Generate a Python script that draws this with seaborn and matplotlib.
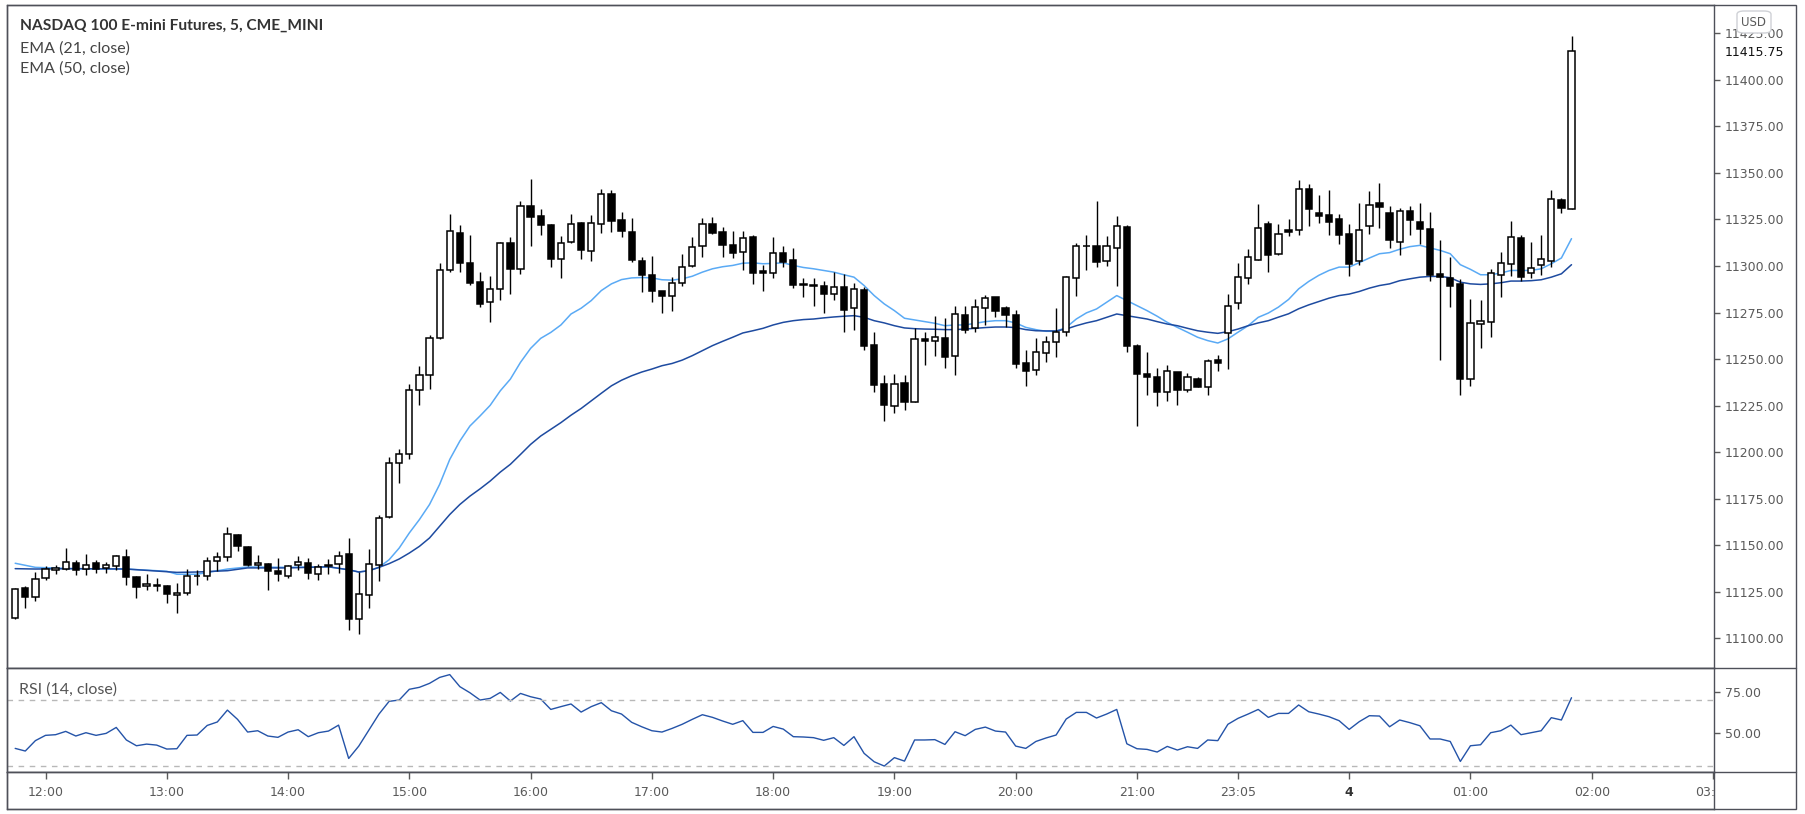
import matplotlib
matplotlib.use("Agg")
import pandas as pd
import matplotlib.pyplot as plt
import seaborn as sns
from matplotlib.patches import Rectangle, FancyBboxPatch
from matplotlib.lines import Line2D

# 5 minute bars, bar 0 = 12:00 (first bar = 11:45); session pauses after 21:10 and 21:55
first_bar = -3
opens = [11110.7, 11126.9, 11122.0, 11132.3, 11136.6, 11137.1, 11140.4, 11137.1, 11140.4, 11137.7,
         11138.9, 11143.6, 11132.8, 11128.0, 11128.5, 11128.1, 11123.1, 11124.0, 11133.2, 11133.4,
         11141.4, 11143.6, 11155.5, 11149.0, 11139.3, 11139.8, 11136.2, 11133.2, 11139.3, 11140.4,
         11134.4, 11139.3, 11139.8, 11145.2, 11110.2, 11123.1, 11139.3, 11165.0, 11194.2, 11199.1,
         11233.1, 11241.2, 11261.1, 11297.8, 11317.7, 11301.5, 11291.3, 11280.5, 11287.5, 11312.5,
         11298.3, 11332.4, 11326.9, 11322.2, 11303.7, 11312.8, 11323.3, 11308.0, 11322.6, 11338.7,
         11324.7, 11318.2, 11302.6, 11295.1, 11286.5, 11283.8, 11290.8, 11299.9, 11310.7, 11322.6,
         11318.3, 11311.2, 11307.5, 11315.6, 11297.4, 11296.5, 11306.9, 11303.3, 11290.0, 11289.9,
         11289.1, 11284.8, 11288.8, 11277.3, 11287.0, 11257.5, 11236.3, 11225.0, 11237.0, 11227.1,
         11260.8, 11259.9, 11261.1, 11251.8, 11273.7, 11266.5, 11277.3, 11283.2, 11277.3, 11273.7,
         11247.6, 11243.9, 11253.2, 11259.0, 11264.4, 11293.5, 11310.7, 11310.7, 11302.6, 11309.6,
         11321.0, 11256.8, 11241.7, 11240.1, 11232.0, 11242.8, 11233.4, 11239.5, 11235.2, 11249.4,
         11263.8, 11280.0, 11293.5, 11303.3, 11322.6, 11306.4, 11319.6, 11319.4, 11341.5, 11328.5,
         11327.6, 11325.5, 11317.4, 11302.7, 11321.5, 11334.1, 11328.7, 11312.9, 11329.3, 11323.9,
         11320.1, 11295.6, 11293.7, 11290.4, 11239.1, 11268.7, 11269.8, 11295.1, 11301.0, 11315.2,
         11296.2, 11300.5, 11302.7, 11335.4, 11330.7]
highs = [11126.9, 11128.1, 11135.5, 11138.9, 11139.5, 11148.4, 11142.2, 11145.2, 11142.0, 11141.1,
         11144.5, 11147.9, 11133.2, 11134.6, 11132.3, 11128.5, 11129.6, 11137.1, 11136.4, 11143.8,
         11146.5, 11159.8, 11155.8, 11149.3, 11144.9, 11140.4, 11143.1, 11139.3, 11144.3, 11143.1,
         11139.8, 11142.5, 11147.0, 11153.8, 11135.3, 11147.9, 11165.9, 11197.5, 11201.4, 11236.8,
         11246.0, 11262.9, 11301.7, 11328.1, 11322.2, 11316.8, 11296.7, 11294.5, 11312.8, 11315.5,
         11335.0, 11346.5, 11330.5, 11322.6, 11316.3, 11328.1, 11323.6, 11327.6, 11341.5, 11341.1,
         11329.0, 11325.8, 11304.8, 11305.3, 11286.8, 11294.0, 11306.6, 11315.6, 11325.8, 11326.3,
         11321.0, 11319.0, 11319.0, 11316.5, 11300.5, 11315.6, 11310.7, 11309.6, 11293.5, 11293.5,
         11292.0, 11296.7, 11295.6, 11290.8, 11288.6, 11264.4, 11241.3, 11241.7, 11241.5, 11266.5,
         11264.4, 11273.3, 11271.9, 11278.4, 11278.7, 11282.3, 11284.5, 11283.6, 11278.7, 11276.2,
         11254.8, 11261.1, 11262.2, 11277.3, 11294.4, 11312.5, 11316.8, 11335.0, 11316.1, 11326.9,
         11322.2, 11258.1, 11253.6, 11244.9, 11246.7, 11243.1, 11242.4, 11240.1, 11250.0, 11252.1,
         11284.8, 11301.7, 11309.3, 11333.5, 11324.2, 11322.8, 11325.5, 11346.0, 11344.0, 11338.4,
         11341.1, 11328.2, 11322.8, 11333.6, 11340.4, 11344.4, 11332.3, 11331.2, 11332.3, 11334.1,
         11329.1, 11313.8, 11304.8, 11292.8, 11282.4, 11281.8, 11298.5, 11307.5, 11324.4, 11316.5,
         11312.9, 11316.9, 11340.6, 11336.6, 11423.4]
lows = [11110.2, 11116.1, 11119.7, 11131.0, 11134.4, 11136.8, 11133.7, 11133.7, 11134.8, 11135.0,
        11136.6, 11128.3, 11121.5, 11125.6, 11125.1, 11118.6, 11113.4, 11122.9, 11128.7, 11131.0,
        11135.9, 11141.3, 11146.6, 11138.6, 11137.1, 11126.0, 11130.5, 11132.3, 11136.4, 11131.9,
        11131.0, 11134.2, 11134.9, 11104.4, 11102.1, 11115.9, 11130.5, 11164.6, 11183.5, 11196.4,
        11225.3, 11233.8, 11260.7, 11296.7, 11297.0, 11290.0, 11277.8, 11270.1, 11281.6, 11285.2,
        11295.6, 11310.5, 11316.4, 11299.7, 11293.4, 11312.5, 11303.9, 11302.6, 11317.7, 11318.2,
        11315.5, 11302.1, 11285.9, 11280.9, 11274.6, 11276.0, 11289.5, 11299.6, 11305.1, 11317.0,
        11304.8, 11304.2, 11298.1, 11290.4, 11286.3, 11293.8, 11299.2, 11288.4, 11283.6, 11278.7,
        11274.8, 11281.9, 11264.7, 11265.8, 11255.0, 11232.4, 11216.7, 11221.2, 11222.7, 11226.8,
        11246.7, 11251.8, 11245.1, 11241.5, 11264.0, 11264.7, 11268.3, 11272.8, 11267.0, 11245.1,
        11235.6, 11241.5, 11248.2, 11251.2, 11262.6, 11284.1, 11297.6, 11299.2, 11299.8, 11289.5,
        11253.9, 11214.0, 11230.7, 11224.8, 11227.5, 11225.4, 11232.4, 11234.7, 11230.7, 11243.3,
        11244.6, 11276.9, 11290.4, 11303.0, 11296.7, 11305.7, 11316.0, 11316.9, 11321.3, 11323.3,
        11316.5, 11312.0, 11294.6, 11300.3, 11317.0, 11320.6, 11309.8, 11305.7, 11316.5, 11311.6,
        11291.7, 11249.7, 11277.7, 11230.6, 11235.6, 11255.9, 11262.0, 11283.6, 11294.6, 11291.9,
        11293.5, 11294.9, 11299.4, 11328.5, 11330.5]
closes = [11126.3, 11121.9, 11131.7, 11137.1, 11137.7, 11140.9, 11136.4, 11139.3, 11137.1, 11139.3,
          11144.1, 11132.8, 11127.2, 11129.0, 11127.8, 11123.5, 11124.2, 11133.4, 11133.5, 11141.4,
          11143.6, 11156.0, 11149.5, 11139.1, 11140.4, 11135.9, 11134.2, 11138.7, 11140.9, 11135.0,
          11138.2, 11138.7, 11144.1, 11110.5, 11123.6, 11139.8, 11164.6, 11194.2, 11199.1, 11233.1,
          11241.2, 11261.1, 11297.8, 11318.8, 11301.5, 11291.1, 11279.8, 11287.5, 11312.5, 11298.3,
          11332.3, 11326.1, 11321.8, 11303.5, 11312.3, 11322.6, 11308.4, 11323.1, 11338.7, 11324.4,
          11318.8, 11303.0, 11294.9, 11286.3, 11283.8, 11290.8, 11299.4, 11310.2, 11322.6, 11317.5,
          11311.1, 11306.8, 11315.0, 11296.5, 11296.2, 11306.9, 11302.4, 11290.0, 11290.4, 11289.0,
          11284.7, 11288.6, 11276.6, 11287.5, 11257.2, 11236.1, 11225.4, 11236.3, 11227.0, 11260.6,
          11259.7, 11261.7, 11251.2, 11274.1, 11265.8, 11277.8, 11282.7, 11276.0, 11273.9, 11247.5,
          11243.7, 11253.6, 11259.0, 11264.4, 11294.0, 11310.7, 11310.9, 11302.4, 11310.7, 11321.5,
          11256.8, 11242.1, 11240.4, 11232.0, 11243.3, 11233.4, 11240.1, 11235.2, 11249.1, 11247.6,
          11278.4, 11294.0, 11304.8, 11320.4, 11305.7, 11317.2, 11318.1, 11341.5, 11330.9, 11326.7,
          11323.5, 11316.5, 11301.2, 11319.6, 11333.0, 11331.6, 11313.8, 11329.6, 11324.6, 11319.7,
          11294.9, 11293.9, 11289.5, 11239.4, 11269.2, 11270.7, 11296.2, 11301.6, 11315.6, 11293.9,
          11298.9, 11303.7, 11336.1, 11331.2, 11415.75]

# moving averages (bar index -> value)
ema_bars = [-3, -1, 3, 8, 12, 13, 15, 18, 20, 24, *range(28, 152)]
ema21 = [11140.2, 11138.0, 11137.3, 11137.1, 11135.9, 11134.3, 11134.3, 11137.1, 11138.2, 11138.0,
         11138.3, 11137.5, 11136.7, 11135.5, 11136.2, 11138.0, 11142.1, 11148.4, 11156.5, 11163.7,
         11171.8, 11182.6, 11196.0, 11205.9, 11214.0, 11219.4, 11225.1, 11232.9, 11239.2, 11248.2,
         11255.7, 11261.1, 11264.3, 11268.3, 11274.2, 11277.3, 11281.4, 11286.8, 11290.4, 11292.7,
         11293.6, 11293.8, 11293.6, 11292.6, 11292.4, 11293.1, 11294.5, 11296.7, 11298.5, 11299.6,
         11300.3, 11301.5, 11301.7, 11301.2, 11301.4, 11301.7, 11300.3, 11299.2, 11298.5, 11297.6,
         11296.7, 11295.3, 11294.0, 11289.5, 11284.1, 11279.6, 11276.0, 11271.9, 11271.0, 11270.1,
         11269.2, 11267.9, 11268.3, 11268.3, 11269.2, 11270.1, 11270.6, 11270.6, 11269.4, 11267.0,
         11265.8, 11264.9, 11264.9, 11267.0, 11271.5, 11274.8, 11276.9, 11280.5, 11284.1, 11281.4,
         11278.7, 11276.0, 11273.0, 11269.7, 11267.0, 11264.4, 11261.7, 11259.9, 11258.6, 11260.8,
         11264.4, 11267.9, 11272.4, 11274.7, 11277.9, 11282.0, 11287.7, 11291.7, 11295.0, 11297.6,
         11299.4, 11299.4, 11301.8, 11304.3, 11306.6, 11307.2, 11309.0, 11310.4, 11311.1, 11309.7,
         11308.4, 11306.6, 11300.7, 11298.2, 11295.3, 11295.3, 11296.2, 11297.6, 11297.6, 11297.6,
         11298.5, 11301.2, 11304.3, 11314.7]
ema50 = [11137.3, 11137.1, 11137.3, 11137.1, 11135.7, 11135.3, 11135.5, 11136.2, 11137.7, 11137.7,
         11138.3, 11137.5, 11136.7, 11135.5, 11136.2, 11138.0, 11140.0, 11142.5, 11145.7, 11149.3,
         11153.8, 11160.1, 11166.4, 11171.8, 11176.3, 11180.2, 11184.4, 11189.2, 11193.4, 11198.7,
         11204.1, 11208.6, 11212.2, 11215.8, 11219.8, 11223.4, 11227.5, 11231.6, 11235.6, 11238.6,
         11241.0, 11243.0, 11244.6, 11246.4, 11247.6, 11249.4, 11251.8, 11254.5, 11257.2, 11259.5,
         11261.7, 11264.0, 11265.2, 11266.5, 11268.3, 11269.7, 11270.6, 11271.2, 11271.5, 11272.1,
         11272.6, 11273.0, 11273.3, 11272.4, 11270.6, 11269.4, 11267.9, 11266.7, 11266.3, 11266.1,
         11266.0, 11265.8, 11265.8, 11266.1, 11266.5, 11266.9, 11267.2, 11267.2, 11266.9, 11265.8,
         11265.2, 11265.1, 11265.1, 11266.1, 11267.9, 11269.4, 11270.6, 11272.4, 11274.2, 11273.3,
         11272.4, 11271.5, 11270.1, 11268.8, 11267.9, 11266.5, 11265.2, 11264.4, 11263.8, 11264.7,
         11266.1, 11267.9, 11269.4, 11270.6, 11272.5, 11274.3, 11277.0, 11279.1, 11280.9, 11282.7,
         11284.1, 11284.9, 11286.3, 11288.1, 11289.5, 11290.4, 11292.1, 11293.1, 11294.0, 11294.4,
         11294.4, 11293.7, 11291.3, 11290.4, 11290.1, 11290.4, 11291.0, 11291.9, 11291.9, 11292.1,
         11292.6, 11294.0, 11295.8, 11300.7]

rsi = [40.7, 39.1, 45.4, 48.6, 49.0, 51.0, 48.2, 50.2, 48.6, 49.8, 53.4, 45.8, 42.3, 43.3, 42.7,
       40.3, 40.5, 48.6, 48.8, 54.6, 56.7, 63.9, 58.3, 50.6, 51.4, 48.2, 47.4, 50.6, 52.0, 47.8,
       50.2, 51.2, 54.8, 34.6, 42.1, 51.8, 61.5, 69.2, 70.0, 76.5, 77.7, 80.1, 83.7, 85.4, 78.1,
       74.4, 70.0, 71.0, 74.6, 69.4, 74.0, 72.0, 70.6, 64.3, 66.0, 67.6, 62.7, 66.0, 68.4, 63.5,
       61.5, 56.5, 53.8, 51.4, 50.6, 52.8, 55.3, 58.3, 61.1, 59.5, 57.3, 55.3, 57.5, 50.4, 50.4,
       54.0, 52.4, 47.8, 47.6, 47.2, 45.6, 47.2, 42.5, 47.8, 37.7, 32.6, 30.0, 35.1, 33.0, 45.8,
       45.8, 46.0, 43.1, 50.8, 48.4, 52.2, 53.6, 51.2, 50.6, 42.1, 40.7, 44.9, 47.0, 48.8, 58.5,
       62.5, 62.5, 59.1, 61.5, 64.3, 43.5, 40.5, 40.1, 38.5, 41.9, 39.7, 41.7, 40.7, 45.8, 45.4,
       55.3, 58.9, 61.5, 64.3, 59.5, 61.9, 61.9, 67.0, 62.9, 61.5, 59.9, 57.5, 52.2, 56.9, 60.5,
       60.3, 53.8, 57.9, 56.3, 54.4, 46.4, 46.4, 44.9, 32.8, 42.3, 42.9, 50.2, 51.4, 54.8, 49.0,
       50.2, 51.4, 59.3, 57.9, 71.4]

time_labels = ["12:00", "13:00", "14:00", "15:00", "16:00", "17:00", "18:00", "19:00",
               "20:00", "21:00", "23:05", "4", "01:00", "02:00", "03:00"]
time_bars = [0, 12, 24, 36, 48, 60, 72, 84, 96, 108, 118, 129, 141, 153, 165]
price_ticks = [11100, 11125, 11150, 11175, 11200, 11225, 11250, 11275, 11300, 11325,
               11350, 11375, 11400, 11425]
rsi_ticks = [50, 75]
last_price = 11415.75

df = pd.DataFrame({"open": opens, "high": highs, "low": lows, "close": closes})
df["bar"] = range(first_bar, first_bar + len(df))
ema = pd.DataFrame({"bar": ema_bars, "ema21": ema21, "ema50": ema50})
rsi_df = pd.DataFrame({"bar": df["bar"], "rsi": rsi})

sns.set_theme(style="white")
plt.rcParams["font.family"] = ["DejaVu Sans"]

W, H = 1805, 814
fig = plt.figure(figsize=(W / 100, H / 100), dpi=100)
fig.patch.set_facecolor("white")


def px_box(left, top, right, bottom):
    return [left / W, 1 - bottom / H, (right - left) / W, (bottom - top) / H]


frame_col = "#4e5059"
txt_col = "#5a5a5a"
ax = fig.add_axes(px_box(7, 5, 1714, 668))
ax_rsi = fig.add_axes(px_box(7, 668, 1714, 772))
ax_t = fig.add_axes(px_box(7, 772, 1714, 809))
xlim = (-3.81, 165.1)

# candles
up = df[df["close"] >= df["open"]]
dn = df[df["close"] < df["open"]]
ax.vlines(df["bar"], df["low"], df["high"], color="black", lw=1.0, zorder=3)
ax.bar(up["bar"], up["close"] - up["open"], bottom=up["open"], width=0.62,
       color="white", edgecolor="black", linewidth=1.1, zorder=4)
ax.bar(dn["bar"], dn["open"] - dn["close"], bottom=dn["close"], width=0.62,
       color="black", edgecolor="black", linewidth=1.1, zorder=4)

sns.lineplot(data=ema, x="bar", y="ema21", ax=ax, color="#5aaaf5", lw=1.1, zorder=2)
sns.lineplot(data=ema, x="bar", y="ema50", ax=ax, color="#1e4ba0", lw=1.1, zorder=2)

ax.set_xlim(*xlim)
ax.set_ylim(11083.9, 11440.3)
ax.set_xlabel("")
ax.set_ylabel("")
ax.yaxis.tick_right()
ax.set_yticks(price_ticks)
ax.set_yticklabels([f"{p:.2f}" for p in price_ticks])
ax.tick_params(axis="y", right=True, length=4, width=1, color=txt_col,
               labelsize=9, labelcolor=txt_col, pad=4)
ax.tick_params(axis="x", bottom=False, labelbottom=False)

# current price label
ax.annotate(f"{last_price:.2f}", xy=(1.0, last_price), xycoords=("axes fraction", "data"),
            xytext=(8, -1.5), textcoords="offset points", va="center", ha="left",
            fontsize=9, color="#111111", zorder=10, annotation_clip=False,
            bbox=dict(boxstyle="square,pad=0.15", fc="white", ec="none"))

# RSI pane
sns.lineplot(data=rsi_df, x="bar", y="rsi", ax=ax_rsi, color="#2453a8", lw=1.0)
for lvl in (70, 30):
    ax_rsi.axhline(lvl, color="#b8b8b8", lw=1.0, dashes=(4, 4))
ax_rsi.set_xlim(*xlim)
ax_rsi.set_ylim(26.4, 89.4)
ax_rsi.set_xlabel("")
ax_rsi.set_ylabel("")
ax_rsi.yaxis.tick_right()
ax_rsi.set_yticks(rsi_ticks)
ax_rsi.set_yticklabels([f"{v:.2f}" for v in rsi_ticks])
ax_rsi.tick_params(axis="y", right=True, length=4, width=1, color=txt_col,
                   labelsize=9, labelcolor=txt_col, pad=4)
ax_rsi.tick_params(axis="x", bottom=False, labelbottom=False)

# time strip
ax_t.set_xlim(*xlim)
ax_t.set_ylim(0, 1)
ax_t.set_yticks([])
ax_t.set_xticks(time_bars)
ax_t.set_xticklabels([])
ax_t.tick_params(axis="x", direction="in", top=True, bottom=False, length=5,
                 width=1, color=txt_col)
for lab, b in zip(time_labels, time_bars):
    bold = lab == "4"
    ax_t.text(b, 0.45, lab, ha="center", va="center", fontsize=9,
              color="#333333" if bold else txt_col,
              fontweight="bold" if bold else "normal", clip_on=True)

for a in (ax, ax_rsi, ax_t):
    a.set_facecolor("white")
    for s in a.spines.values():
        s.set_color(frame_col)
        s.set_linewidth(1.0)

# outer frame and pane separators across the price scale
fig.add_artist(Rectangle((7 / W, 1 - 809 / H), (1796 - 7) / W, (809 - 5) / H,
                         transform=fig.transFigure, fill=False, ec=frame_col, lw=1.0))
for yy in (668, 772):
    fig.add_artist(Line2D([7 / W, 1796 / W], [1 - yy / H, 1 - yy / H],
                          transform=fig.transFigure, color=frame_col, lw=1.0))

# USD badge
fig.add_artist(FancyBboxPatch((1737 / W, 1 - 33 / H), 34 / W, 22 / H,
                              boxstyle="round,pad=0,rounding_size=0.004",
                              transform=fig.transFigure, fc="white", ec="#cfd1d6",
                              lw=1.0, zorder=20))
fig.text(1754 / W, 1 - 22 / H, "USD", ha="center", va="center", fontsize=8.5,
         color=txt_col, zorder=21)

# legend texts
hdr = ["Lato", "DejaVu Sans"]
fig.text(20 / W, 1 - 25.5 / H, "NASDAQ 100 E-mini Futures, 5, CME_MINI", fontsize=11.2,
         fontweight="bold", color="#333333", va="center", family=hdr)
fig.text(20 / W, 1 - 48.5 / H, "EMA (21, close)", fontsize=11.5, color="#444444",
         va="center", family=hdr)
fig.text(20 / W, 1 - 68.5 / H, "EMA (50, close)", fontsize=11.5, color="#444444",
         va="center", family=hdr)
fig.text(19 / W, 1 - 690 / H, "RSI (14, close)", fontsize=11.5, color="#555555",
         va="center", family=hdr)

fig.savefig("out.png", dpi=100, facecolor="white")
